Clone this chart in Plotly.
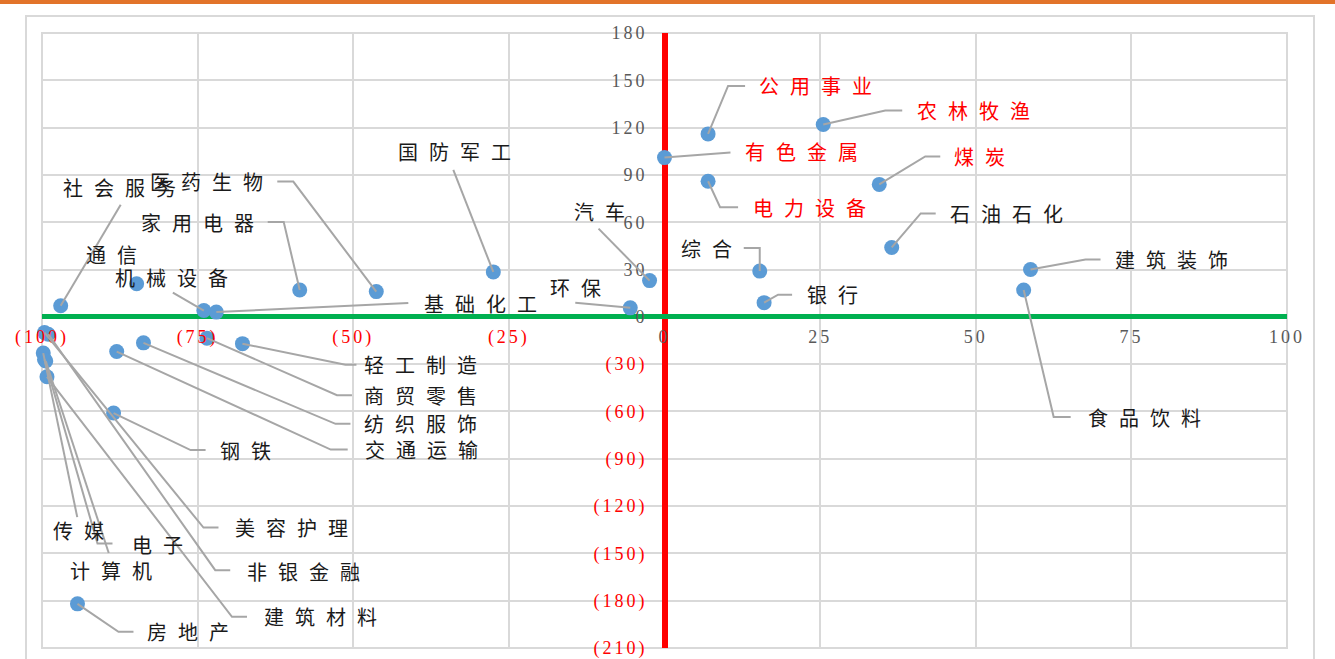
import plotly.graph_objects as go

# ---- data -------------------------------------------------------------
industries = [
    "公用事业", "农林牧渔", "有色金属", "煤炭", "电力设备", "石油石化", "综合",
    "建筑装饰", "食品饮料", "银行", "环保", "汽车", "国防军工", "医药生物",
    "社会服务", "家用电器", "通信", "机械设备", "基础化工", "轻工制造",
    "商贸零售", "纺织服饰", "交通运输", "钢铁", "美容护理", "非银金融",
    "建筑材料", "传媒", "电子", "计算机", "房地产",
]
x_values = [
    7.0, 25.5, 0.0, 34.5, 7.0, 36.5, 15.3,
    58.8, 57.7, 16.0, -5.5, -2.4, -27.5, -46.3,
    -97.0, -58.6, -84.8, -74.0, -72.0, -67.8,
    -73.5, -83.7, -88.0, -88.5, -99.6, -99.0,
    -99.2, -99.8, -99.6, -99.4, -94.3,
]
y_values = [
    116, 122, 101, 84, 86, 44, 29,
    30, 17, 9, 5.7, 23, 28.5, 16,
    7, 17, 21, 4, 3, -17,
    -13.5, -16.5, -22, -61, -10, -11,
    -38, -23, -27, -28, -182,
]
highlighted = ["公用事业", "农林牧渔", "有色金属", "煤炭", "电力设备"]

x_tickvals = [-100, -75, -50, -25, 0, 25, 50, 75, 100]
x_ticklabels = ["(100)", "(75)", "(50)", "(25)", "0", "25", "50", "75", "100"]
y_tickvals = [-210, -180, -150, -120, -90, -60, -30, 0, 30, 60, 90, 120, 150, 180]
y_ticklabels = ["(210)", "(180)", "(150)", "(120)", "(90)", "(60)", "(30)",
                "0", "30", "60", "90", "120", "150", "180"]

# ---- label placement: pixel offsets from each point (screen, y down) ----
# text: (dx, dy, anchor); path: elbow / end vertices of the leader line
label_layout = {
    "公用事业": ((49, -48, "left"), [(20, -48), (37, -48)]),
    "农林牧渔": ((92, -14, "left"), [(62, -14), (79, -14)]),
    "有色金属": ((78, -6, "left"), [(66, -5)]),
    "煤炭": ((73, -28, "left"), [(46, -28), (61, -28)]),
    "电力设备": ((43, 26, "left"), [(12, 26), (30, 26)]),
    "石油石化": ((56, -34, "left"), [(29, -34), (44, -34)]),
    "综合": ((-26, -23, "right"), [(0, -23), (-16, -23)]),
    "建筑装饰": ((82, -10, "left"), [(55, -10), (70, -10)]),
    "食品饮料": ((62, 127, "left"), [(30, 127), (47, 127)]),
    "银行": ((41, -8, "left"), [(14, -8), (28, -8)]),
    "环保": ((-55, -20, "center"), [(-55, -5)]),
    "汽车": ((-50, -69, "center"), [(-51, -52)]),
    "国防军工": ((-39, -120, "center"), [(-40, -102)]),
    "医药生物": ((-111, -110, "right"), [(-83, -110), (-99, -110)]),
    "社会服务": ((59, -118, "center"), [(60, -101)]),
    "家用电器": ((-44, -68, "right"), [(-16, -68), (-32, -68)]),
    "通信": ((-25, -29, "center"), []),
    "机械设备": ((-32, -33, "center"), [(-31, -18)]),
    "基础化工": ((206, -9, "left"), [(192, -9)]),
    "轻工制造": ((120, 21, "left"), [(103, 21), (114, 21)]),
    "商贸零售": ((155, 57, "left"), [(130, 57), (145, 57)]),
    "纺织服饰": ((219, 81, "left"), [(192, 81), (207, 81)]),
    "交通运输": ((246, 98, "left"), [(214, 98), (231, 98)]),
    "钢铁": ((104, 37, "left"), [(77, 37), (92, 37)]),
    "美容护理": ((189, 195, "left"), [(159, 195), (174, 195)]),
    "非银金融": ((197, 237, "left"), [(167, 236), (182, 236)]),
    "建筑材料": ((215, 240, "left"), [(185, 240), (200, 240)]),
    "传媒": ((35, 177, "center"), [(34, 164)]),
    "电子": ((86, 185, "left"), [(53, 184), (68, 184)]),
    "计算机": ((65, 209, "center"), [(63, 192)]),
    "房地产": ((68, 28, "left"), [(41, 28), (56, 28)]),
}

# ---- styling ----------------------------------------------------------
RED = "#FF0000"
GREEN = "#00B050"
GRID = "#D9D9D9"
LEADER = "#A6A6A6"
MARKER = "#5B9BD5"
TICK_GRAY = "#595959"
CJK = "Noto Sans CJK SC"
SERIF = "Liberation Serif"
LABEL_SIZE = 20
LABEL_SPACING = 11
TICK_SPACING = 3


def tick_html(t):
    color = RED if t.startswith("(") else TICK_GRAY
    return f'<span style="color:{color};letter-spacing:{TICK_SPACING}px">{t}</span>'


fig = go.Figure()

fig.add_trace(go.Scatter(
    x=x_values, y=y_values, mode="markers",
    marker=dict(size=15, color=MARKER, line=dict(width=0)),
    cliponaxis=False, hoverinfo="text", text=industries,
))

shapes = [
    # orange band across the top of the page
    dict(type="rect", xref="paper", yref="paper", x0=-0.04, x1=1.05,
         y0=1.0472, y1=1.06, fillcolor="#E2732A", line=dict(width=0), layer="below"),
    # outer chart frame
    dict(type="rect", xref="paper", yref="paper", x0=-0.01285, x1=1.0217,
         y0=-0.2, y1=1.0276, line=dict(color=GRID, width=2), layer="below"),
    # plot area border
    dict(type="rect", xref="paper", yref="paper", x0=0, x1=1, y0=0, y1=1,
         line=dict(color=GRID, width=2), layer="below"),
]

annotations = []
for name, xv, yv in zip(industries, x_values, y_values):
    (dx, dy, anchor), path = label_layout[name]
    if path:
        d = "M0,0 " + " ".join(f"L{px},{-py}" for px, py in path)
        shapes.append(dict(
            type="path", path=d, xref="x", yref="y",
            xsizemode="pixel", ysizemode="pixel", xanchor=xv, yanchor=yv,
            line=dict(color=LEADER, width=2), layer="above",
        ))
    shift = dx
    if anchor == "right":
        shift += LABEL_SPACING
    elif anchor == "center":
        shift += LABEL_SPACING / 2
    color = RED if name in highlighted else "#1A1A1A"
    annotations.append(dict(
        x=xv, y=yv, xref="x", yref="y", showarrow=False,
        text=f'<span style="letter-spacing:{LABEL_SPACING}px">{name}</span>',
        xanchor=anchor, yanchor="middle", xshift=shift, yshift=-dy,
        font=dict(family=CJK, size=LABEL_SIZE, color=color),
    ))

zero_y_frac = (0 - y_tickvals[0]) / (y_tickvals[-1] - y_tickvals[0])

fig.update_layout(
    width=1335, height=659,
    margin=dict(l=42, r=48, t=33, b=11, autoexpand=False),
    paper_bgcolor="white", plot_bgcolor="white",
    showlegend=False,
    shapes=shapes, annotations=annotations,
    xaxis=dict(
        range=[-100, 100], tickvals=x_tickvals,
        ticktext=[tick_html(t) for t in x_ticklabels],
        showgrid=True, gridcolor=GRID, gridwidth=2,
        zeroline=True, zerolinecolor=RED, zerolinewidth=6,
        anchor="free", position=zero_y_frac, showline=False,
        ticks="", ticklabelstandoff=7, ticklabeloverflow="allow",
        automargin=False,
        tickfont=dict(family=SERIF, size=18, color=TICK_GRAY),
        fixedrange=True,
    ),
    yaxis=dict(
        range=[-210, 180], tickvals=y_tickvals,
        ticktext=[tick_html(t) for t in y_ticklabels],
        showgrid=True, gridcolor=GRID, gridwidth=2,
        zeroline=True, zerolinecolor=GREEN, zerolinewidth=5,
        anchor="free", position=0.5, showline=False,
        ticks="", ticklabelstandoff=17, ticklabeloverflow="allow",
        automargin=False,
        tickfont=dict(family=SERIF, size=18, color=TICK_GRAY),
        fixedrange=True,
    ),
)

fig.write_html("out.html")
